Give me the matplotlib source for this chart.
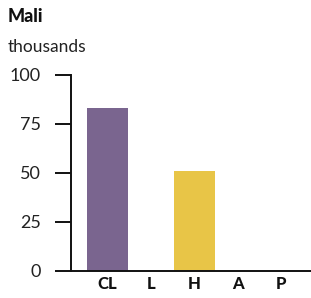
import matplotlib
matplotlib.use("Agg")
import matplotlib.pyplot as plt

categories = ["CL", "L", "H", "A", "P"]
values = [83, 0, 51, 0, 0]
colors = ["#7a658f", "#7a658f", "#e8c547", "#7a658f", "#7a658f"]
yticks = [0, 25, 50, 75, 100]

plt.rcParams["font.family"] = ["Lato", "DejaVu Sans"]

fig = plt.figure(figsize=(3.11, 2.98), dpi=100)
ax = fig.add_axes([71 / 311, 1 - 270.7 / 298, 1 - 71 / 311, (270.7 - 75) / 298])

ax.bar(range(len(categories)), values, 0.94, color=colors)
ax.set_xlim(-0.84, 4.68)
ax.set_ylim(0, 100)

ax.set_yticks(yticks)
ax.set_yticklabels([str(v) for v in yticks], fontsize=13, color="#222222")
ax.tick_params(axis="y", direction="out", length=11.5, width=1.4, pad=10, color="#111111")
ax.set_xticks(range(len(categories)))
ax.set_xticklabels(categories, fontsize=12, fontweight=900, color="#111111")
ax.tick_params(axis="x", length=0, pad=4)

for s in ["top", "right"]:
    ax.spines[s].set_visible(False)
for s in ["left", "bottom"]:
    ax.spines[s].set_linewidth(1.4)
    ax.spines[s].set_color("#111111")

fig.text(8 / 311, 1 - 22 / 298, "Mali", fontsize=13, fontweight=900, color="#111111")
fig.text(8 / 311, 1 - 52 / 298, "thousands", fontsize=12.5, color="#222222")

fig.savefig("out.png", dpi=100)
